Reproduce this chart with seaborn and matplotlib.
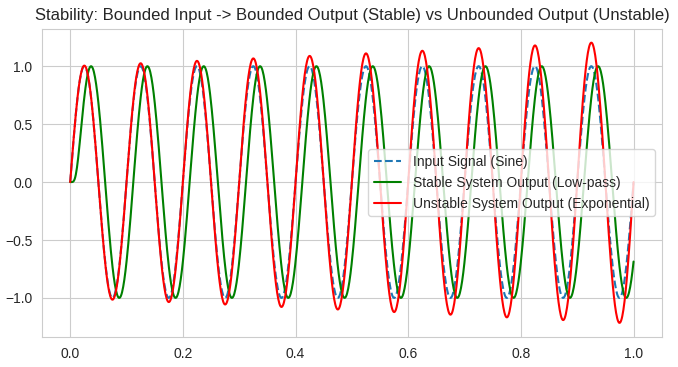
import numpy as np
import pandas as pd
import matplotlib
matplotlib.use("Agg")
import matplotlib.pyplot as plt
import seaborn as sns

# signal settings
t_start, t_end, n_points = 0.0, 1.0, 1000
input_freq_hz = 10.0        # 10 cycles over 1 s
input_amplitude = 1.0
growth_rate = 0.2           # red peaks grow 1.0 -> ~1.2 by t=0.93
lag_phase = 0.775           # green lags the input by ~0.0123 s (ends at -0.7)
n_poles = 6                 # flat start, then a quick rise

t = np.linspace(t_start, t_end, n_points)
u = input_amplitude * np.sin(2 * np.pi * input_freq_hz * t)


def lowpass_cascade(u, t, phase, n, substeps=10):
    """n cascaded first-order lags, scaled back to unit pass gain."""
    w = 2 * np.pi * input_freq_hz
    tau = np.tan(phase / n) / w
    ys = np.zeros(n)
    out = np.zeros_like(u)
    for i in range(1, len(t)):
        h = (t[i] - t[i - 1]) / substeps
        a = np.exp(-h / tau)
        for k in range(1, substeps + 1):
            prev = u[i - 1] + (u[i] - u[i - 1]) * k / substeps
            for j in range(n):
                ys[j] = a * ys[j] + (1 - a) * prev
                prev = ys[j]
        out[i] = ys[-1]
    return out * (1 + (w * tau) ** 2) ** (n / 2)


stable = lowpass_cascade(u, t, lag_phase, n_poles)
unstable = u * np.exp(growth_rate * t)

df = pd.DataFrame({"t": t, "input": u, "stable": stable, "unstable": unstable})

sns.set_style("whitegrid")
plt.rcParams["font.family"] = ["Liberation Sans", "DejaVu Sans"]

fig, ax = plt.subplots(figsize=(6.78, 3.67), dpi=100)
fig.subplots_adjust(left=0.062, right=0.976, top=0.922, bottom=0.082)

sns.lineplot(data=df, x="t", y="input", ax=ax, color="#1f77b4",
             linestyle="--", linewidth=1.5, label="Input Signal (Sine)")
sns.lineplot(data=df, x="t", y="stable", ax=ax, color="green",
             linewidth=1.5, label="Stable System Output (Low-pass)")
sns.lineplot(data=df, x="t", y="unstable", ax=ax, color="red",
             linewidth=1.5, label="Unstable System Output (Exponential)")

ax.set_xlabel("")
ax.set_ylabel("")
ax.set_title("Stability: Bounded Input -> Bounded Output (Stable) vs Unbounded Output (Unstable)",
             fontsize=12)
ax.legend(loc="center right", frameon=True, facecolor="white", framealpha=0.8)

plt.savefig("out.png", dpi=100)
